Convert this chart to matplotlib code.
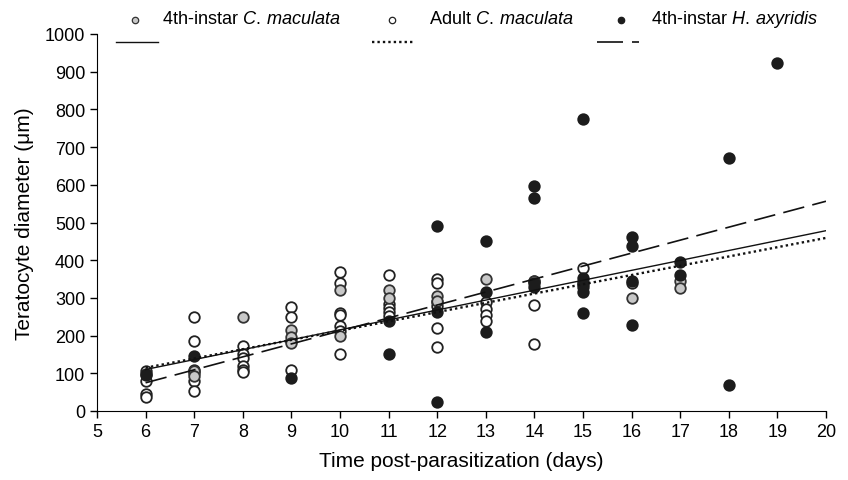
import matplotlib
matplotlib.use("Agg")
import matplotlib.pyplot as plt
import numpy as np

plt.rcParams['font.family'] = ['Liberation Sans', 'DejaVu Sans']
plt.rcParams['mathtext.fontset'] = 'custom'
plt.rcParams['mathtext.rm'] = 'Liberation Sans'
plt.rcParams['mathtext.it'] = 'Liberation Sans:italic'

# 4th-instar C. maculata (gray)
gray_x = [7, 7, 8, 9, 9, 9, 10, 10, 11, 11, 12, 12, 13, 14, 16, 17, 17]
gray_y = [105, 92, 250, 215, 195, 180, 320, 200, 320, 300, 305, 292, 350, 345, 300, 345, 325]

# Adult C. maculata (open)
open_x = [6, 6, 6, 6, 6,
          7, 7, 7, 7, 7, 7,
          8, 8, 8, 8, 8, 8,
          9, 9, 9, 9,
          10, 10, 10, 10, 10, 10, 10,
          11, 11, 11, 11, 11,
          12, 12, 12, 12, 12, 12,
          13, 13, 13, 13,
          14, 14, 14,
          15, 15,
          16]
open_y = [105, 98, 80, 45, 38,
          250, 187, 110, 100, 80, 52,
          172, 150, 140, 120, 110, 103,
          275, 250, 185, 110,
          370, 340, 260, 255, 225, 212, 150,
          360, 285, 272, 262, 252,
          350, 340, 290, 278, 220, 170,
          290, 270, 255, 240,
          345, 280, 178,
          380, 338,
          340]

# 4th-instar H. axyridis (black)
black_x = [6, 7, 9, 11, 11, 12, 12, 12, 13, 13, 13,
           14, 14, 14, 14, 15, 15, 15, 15, 15, 15,
           16, 16, 16, 16, 17, 17, 18, 18, 19]
black_y = [95, 145, 88, 240, 152, 490, 262, 25, 450, 315, 210,
           598, 565, 340, 330, 775, 352, 342, 330, 315, 260,
           462, 437, 345, 228, 395, 362, 670, 70, 922]

# fitted regression lines (intercept, slope), drawn from x=6 to 20
fit_gray = (-47.7, 26.3)
fit_open = (-32.9, 24.6)
fit_black = (-131.6, 34.4)
fit_range = [6, 20]

xticks = list(range(5, 21))
yticks = list(range(0, 1001, 100))

W, H = 848, 481
fig = plt.figure(figsize=(W / 100, H / 100), dpi=100)
ax = fig.add_axes([97 / W, 1 - 412 / H, (826 - 97) / W, (412 - 35) / H])

ms = 7.6
ax.plot(open_x, open_y, 'o', ms=ms, mfc='white', mec='#222222', mew=1.3, zorder=3)
ax.plot(gray_x, gray_y, 'o', ms=ms, mfc='#c8c8c8', mec='#333333', mew=1.3, zorder=4)
ax.plot(black_x, black_y, 'o', ms=ms, mfc='#1c1c1c', mec='#1c1c1c', mew=1.3, zorder=5)

dotted = (0, (1, 1.3))
dashed = (0, (13, 5))
xr = np.array(fit_range, dtype=float)
ax.plot(xr, fit_gray[0] + fit_gray[1] * xr, '-', color='#111111', lw=1.0, zorder=6)
ax.plot(xr, fit_open[0] + fit_open[1] * xr, color='#111111', lw=1.7, ls=dotted, zorder=6)
ax.plot(xr, fit_black[0] + fit_black[1] * xr, color='#111111', lw=1.2, ls=dashed, zorder=6)

ax.set_xlim(5, 20)
ax.set_ylim(0, 1000)
ax.set_xticks(xticks)
ax.set_yticks(yticks)
ax.tick_params(direction='out', length=5, width=1, labelsize=13, colors='black')
ax.spines['top'].set_visible(False)
ax.spines['right'].set_visible(False)
ax.set_xlabel('Time post-parasitization (days)', fontsize=15, labelpad=8)
ax.set_ylabel('Teratocyte diameter (\u03bcm)', fontsize=15, labelpad=8)

# manual legend (figure pixel coordinates)
def fx(px):
    return px / W

def fy(py):
    return 1 - py / H

row1 = 20
row2 = 43
lms = 4.6
fig.lines.append(plt.Line2D([fx(135)], [fy(row1 + 1)], marker='o', ms=lms, mfc='#c8c8c8', mec='#333333', mew=0.9, transform=fig.transFigure))
fig.lines.append(plt.Line2D([fx(392)], [fy(row1 + 1)], marker='o', ms=lms, mfc='white', mec='#222222', mew=0.9, transform=fig.transFigure))
fig.lines.append(plt.Line2D([fx(621)], [fy(row1 + 1)], marker='o', ms=lms, mfc='#1c1c1c', mec='#1c1c1c', mew=0.9, transform=fig.transFigure))
fig.text(fx(162), fy(row1), r'4th-instar $\it{C.\!\ maculata}$', fontsize=13.1, va='center', ha='left')
fig.text(fx(429), fy(row1), r'Adult $\it{C.\!\ maculata}$', fontsize=13.1, va='center', ha='left')
fig.text(fx(651), fy(row1), r'4th-instar $\it{H.\!\ axyridis}$', fontsize=13.1, va='center', ha='left')
fig.lines.append(plt.Line2D([fx(116), fx(158)], [fy(row2), fy(row2)], color='#111111', lw=1.0, transform=fig.transFigure))
fig.lines.append(plt.Line2D([fx(372), fx(413)], [fy(row2), fy(row2)], color='#111111', lw=1.7, ls=dotted, transform=fig.transFigure))
fig.lines.append(plt.Line2D([fx(597), fx(639)], [fy(row2), fy(row2)], color='#111111', lw=1.2, ls=(0, (15.6, 5.4)), transform=fig.transFigure))

fig.savefig('out.png', dpi=100)
